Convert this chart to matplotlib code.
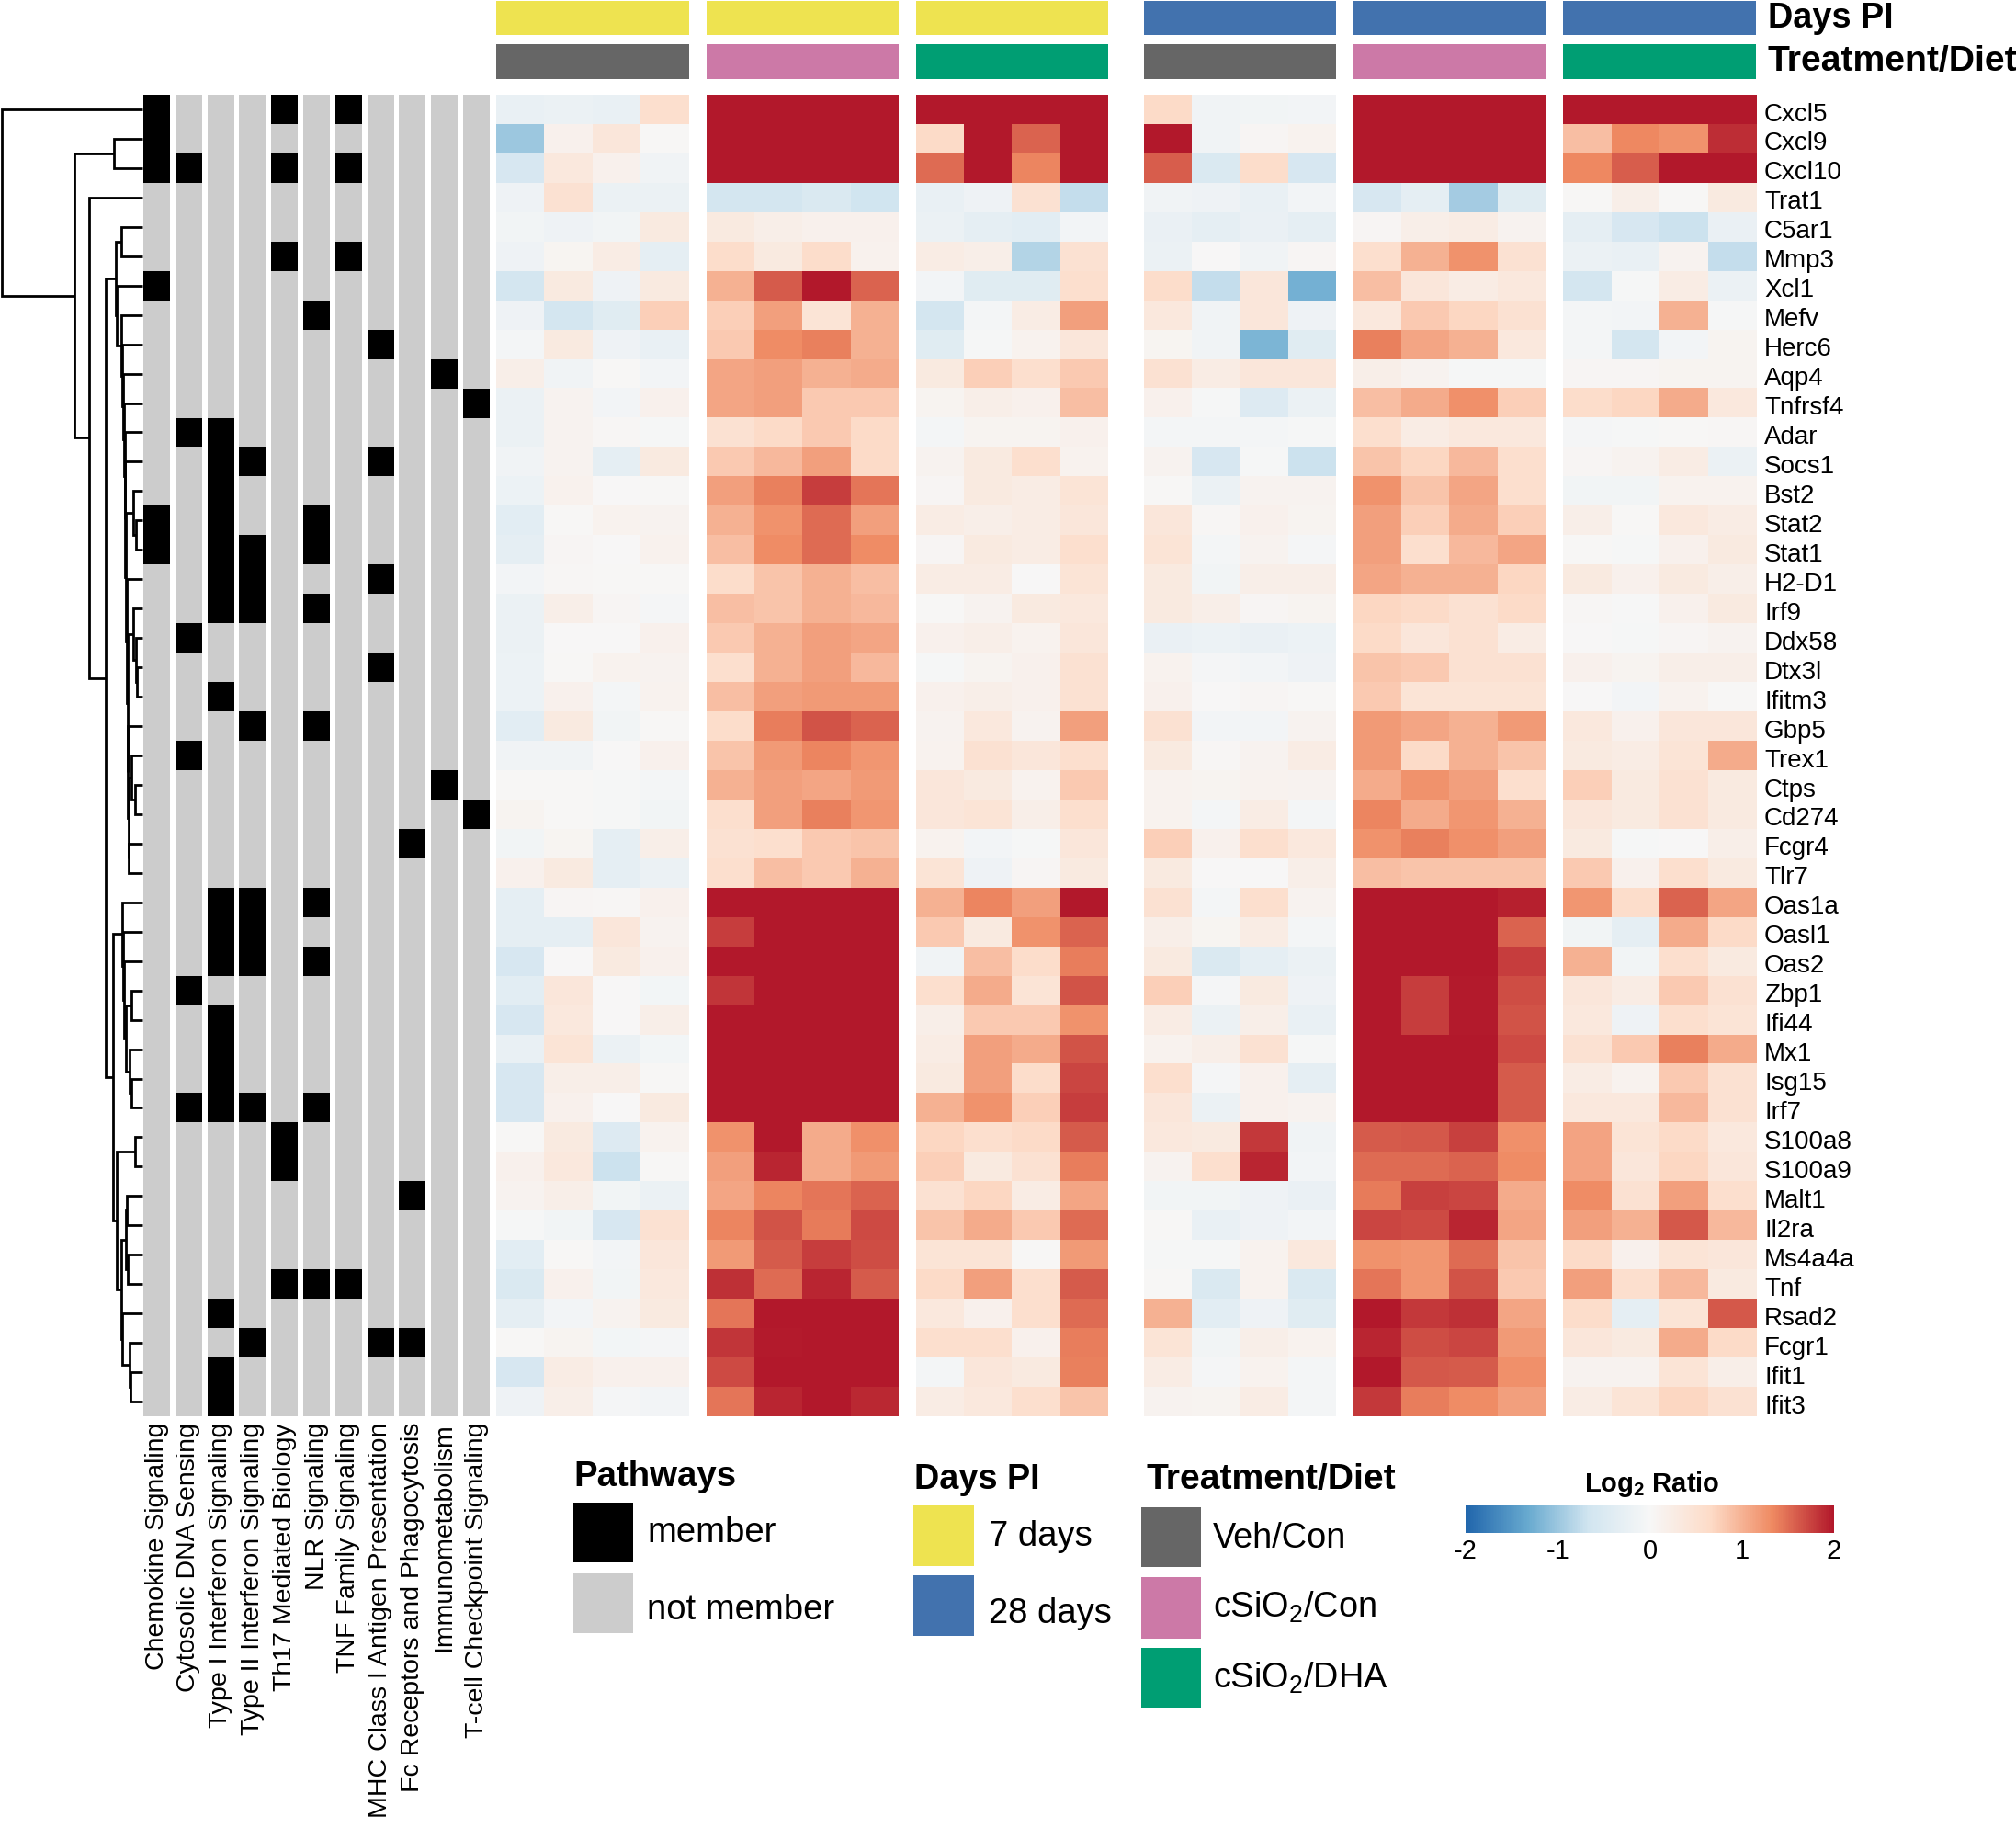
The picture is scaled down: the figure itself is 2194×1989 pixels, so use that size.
import numpy as np
import matplotlib
matplotlib.use("Agg")
import matplotlib.pyplot as plt
from matplotlib.colors import LinearSegmentedColormap, ListedColormap
from matplotlib.patches import Rectangle

plt.rcParams['font.family'] = ['Liberation Sans', 'DejaVu Sans']
plt.rcParams['mathtext.fontset'] = 'custom'
plt.rcParams['mathtext.rm'] = 'Liberation Sans'
plt.rcParams['mathtext.bf'] = 'Liberation Sans:bold'
plt.rcParams['mathtext.default'] = 'regular'

genes = ["Cxcl5", "Cxcl9", "Cxcl10", "Trat1", "C5ar1", "Mmp3", "Xcl1", "Mefv", "Herc6",
         "Aqp4", "Tnfrsf4", "Adar", "Socs1", "Bst2", "Stat2", "Stat1", "H2-D1", "Irf9",
         "Ddx58", "Dtx3l", "Ifitm3", "Gbp5", "Trex1", "Ctps", "Cd274", "Fcgr4", "Tlr7",
         "Oas1a", "Oasl1", "Oas2", "Zbp1", "Ifi44", "Mx1", "Isg15", "Irf7", "S100a8",
         "S100a9", "Malt1", "Il2ra", "Ms4a4a", "Tnf", "Rsad2", "Fcgr1", "Ifit1", "Ifit3"]

# log2 ratios, one list per treatment group
veh_7d = [
    [-.25, -.2, -.25, .55], [-1.0, .15, .4, .03], [-.55, .35, .15, -.12], [-.15, .5, -.2, -.2],
    [-.1, -.15, -.1, .3], [-.15, .07, .25, -.3], [-.6, .3, -.15, .3], [-.15, -.6, -.4, .75],
    [-.05, .3, -.15, -.25], [.2, -.12, .02, -.08], [-.2, .1, -.08, .15], [-.2, .1, .04, -.03],
    [-.12, .1, -.3, .3], [-.18, .13, .0, .03], [-.35, .03, .12, .1], [-.3, .05, .0, .13],
    [-.08, .04, .02, .02], [-.2, .2, .05, -.04], [-.2, .0, .0, .15], [-.18, .02, .12, .1],
    [-.18, .15, -.05, .12], [-.35, .3, -.1, .03], [-.12, -.12, .0, .15], [.03, .03, -.03, -.05],
    [.08, .03, -.02, -.1], [-.1, .07, -.3, .2], [.15, .3, -.3, -.2], [-.3, .05, .04, .15],
    [-.3, -.3, .4, .1], [-.55, .01, .3, .15], [-.35, .4, .0, -.07], [-.55, .35, .0, .2],
    [-.25, .45, -.2, -.07], [-.55, .2, .2, .02], [-.55, .15, .01, .3], [.03, .3, -.45, .12],
    [.15, .35, -.7, .02], [.1, .2, -.1, -.2], [-.03, -.1, -.55, .5], [-.35, .02, -.08, .4],
    [-.5, .15, -.1, .35], [-.3, -.08, .1, .3], [.02, .08, -.07, -.04], [-.55, .25, .15, .15],
    [-.15, .2, -.04, -.08]]
sio2_con_7d = [
    [2, 2, 2, 2], [2, 2, 2, 2], [2, 2, 2, 2], [-.6, -.6, -.5, -.65],
    [.3, .2, .15, .15], [.6, .3, .6, .13], [1.0, 1.6, 2, 1.55], [.75, 1.15, .45, 1.0],
    [.8, 1.3, 1.38, 1.0], [1.1, 1.15, 1.0, 1.05], [1.1, 1.15, .8, .8], [.5, .65, .8, .65],
    [.8, .95, 1.15, .65], [1.15, 1.38, 1.78, 1.45], [1.0, 1.25, 1.5, 1.15], [.9, 1.3, 1.5, 1.3],
    [.6, .85, 1.0, .9], [.9, .85, 1.0, .95], [.8, 1.0, 1.15, 1.1], [.55, 1.0, 1.15, .95],
    [.9, 1.15, 1.2, 1.2], [.6, 1.4, 1.65, 1.55], [.85, 1.2, 1.35, 1.22], [1.0, 1.15, 1.1, 1.2],
    [.55, 1.15, 1.38, 1.22], [.5, .55, .8, .85], [.55, .9, .8, 1.0], [2, 2, 2, 2],
    [1.78, 2, 2, 2], [2, 2, 2, 2], [1.82, 2, 2, 2], [2, 2, 2, 2],
    [2, 2, 2, 2], [2, 2, 2, 2], [2, 2, 2, 2], [1.25, 2, 1.05, 1.28],
    [1.15, 1.92, 1.05, 1.2], [1.1, 1.35, 1.45, 1.55], [1.35, 1.65, 1.42, 1.7], [1.2, 1.6, 1.78, 1.68],
    [1.85, 1.5, 1.92, 1.6], [1.45, 2, 2, 2], [1.82, 1.97, 2, 2], [1.7, 2, 2, 2],
    [1.45, 1.92, 2, 1.9]]
sio2_dha_7d = [
    [2, 2, 2, 2], [.65, 2, 1.55, 2], [1.5, 2, 1.35, 2], [-.25, -.15, .5, -.75],
    [-.2, -.3, -.35, -.08], [.25, .2, -.85, .5], [-.08, -.4, -.4, .55], [-.6, -.05, .25, 1.15],
    [-.4, -.03, .12, .4], [.3, .75, .55, .8], [.08, .2, .15, .9], [-.06, .08, .08, .15],
    [.1, .3, .55, .12], [.05, .3, .25, .45], [.25, .2, .25, .4], [.05, .3, .25, .55],
    [.25, .25, .0, .45], [.03, .1, .3, .35], [.15, .2, .12, .4], [-.02, .08, .15, .5],
    [.15, .2, .15, .5], [.1, .35, .1, 1.15], [.12, .5, .4, .55], [.4, .3, .12, .8],
    [.4, .45, .2, .55], [.12, -.08, -.03, .4], [.45, -.15, .05, .3], [1.0, 1.35, 1.15, 2],
    [.8, .3, 1.25, 1.55], [-.12, .9, .6, 1.4], [.55, 1.05, .45, 1.65], [.2, .8, .8, 1.25],
    [.25, 1.15, 1.05, 1.65], [.3, 1.15, .6, 1.72], [1.0, 1.25, .75, 1.78], [.7, .55, .65, 1.6],
    [.75, .3, .5, 1.4], [.5, .7, .25, 1.1], [.85, 1.05, .8, 1.5], [.45, .45, .02, 1.2],
    [.65, 1.15, .55, 1.6], [.35, .15, .55, 1.5], [.55, .55, .15, 1.4], [-.05, .4, .3, 1.38],
    [.25, .35, .55, .85]]
veh_28d = [
    [.65, -.12, -.1, -.08], [2, -.12, .05, .12], [1.58, -.5, .6, -.55], [-.12, -.15, -.25, -.08],
    [-.22, -.3, -.22, -.3], [-.2, .0, -.12, .05], [.6, -.75, .4, -1.25], [.35, -.12, .4, -.15],
    [.07, -.12, -1.2, -.4], [.5, .25, .4, .4], [.15, -.02, -.45, -.2], [-.06, -.06, -.06, -.02],
    [.1, -.55, -.02, -.7], [.02, -.2, .1, .1], [.4, .04, .15, .08], [.45, -.06, .1, -.04],
    [.3, -.1, .2, .2], [.3, .2, .05, .08], [-.22, -.18, -.22, -.18], [.12, -.04, -.08, -.15],
    [.15, .0, .05, .02], [.5, -.08, -.08, .1], [.3, .04, .1, .25], [.12, .08, .12, .1],
    [.12, -.06, .25, -.05], [.75, .15, .55, .35], [.3, .0, .0, .2], [.5, -.05, .55, .1],
    [.2, .07, .25, -.06], [.3, -.5, -.3, -.2], [.75, -.04, .3, -.15], [.25, -.2, .2, -.25],
    [.12, .2, .5, -.02], [.55, -.04, .15, -.3], [.4, -.2, .15, .1], [.35, .3, 1.8, -.12],
    [.1, .55, 1.92, -.08], [-.1, -.1, -.15, -.22], [.02, -.25, -.15, -.08], [-.03, -.03, .12, .35],
    [.02, -.5, .12, -.5], [1.0, -.35, -.15, -.4], [.45, -.1, .2, .12], [.25, -.04, .12, -.06],
    [.1, .08, .25, -.06]]
sio2_con_28d = [
    [2, 2, 2, 2], [2, 2, 2, 2], [2, 2, 2, 2], [-.55, -.3, -.95, -.4],
    [.05, .2, .25, .1], [.55, 1.0, 1.25, .5], [.9, .4, .25, .35], [.35, .8, .7, .5],
    [1.38, 1.1, 1.0, .35], [.2, .1, -.02, -.02], [.9, 1.05, 1.28, .75], [.55, .25, .35, .35],
    [.85, .7, .95, .55], [1.25, .85, 1.1, .55], [1.15, .75, 1.05, .75], [1.15, .55, .95, 1.1],
    [1.1, 1.0, 1.0, .7], [.7, .65, .5, .65], [.65, .4, .5, .25], [.85, .8, .5, .5],
    [.8, .45, .45, .45], [1.2, 1.1, 1.0, 1.2], [1.2, .65, 1.0, .85], [1.05, 1.25, 1.15, .55],
    [1.35, 1.05, 1.22, 1.0], [1.25, 1.38, 1.28, 1.15], [.9, .85, .85, .85], [2, 2, 2, 1.95],
    [2, 2, 2, 1.55], [2, 2, 2, 1.78], [2, 1.78, 1.97, 1.68], [2, 1.78, 1.97, 1.65],
    [2, 2, 2, 1.7], [2, 2, 2, 1.6], [2, 2, 2, 1.6], [1.6, 1.62, 1.75, 1.28],
    [1.5, 1.5, 1.55, 1.3], [1.42, 1.75, 1.72, 1.05], [1.72, 1.7, 1.92, 1.1], [1.25, 1.22, 1.5, .85],
    [1.45, 1.22, 1.65, .8], [2, 1.8, 1.85, 1.1], [1.92, 1.68, 1.72, 1.2], [2, 1.62, 1.6, 1.28],
    [1.8, 1.4, 1.3, 1.15]]
sio2_dha_28d = [
    [2, 2, 2, 2], [.9, 1.33, 1.25, 1.87], [1.33, 1.58, 2, 2], [.03, .2, .03, .3],
    [-.3, -.55, -.7, -.22], [-.2, -.25, .1, -.75], [-.6, -.02, .25, -.2], [-.05, -.08, 1.0, -.03],
    [-.05, -.6, -.08, .08], [.06, .06, .08, .08], [.6, .7, 1.05, .35], [-.04, -.02, .02, .04],
    [.05, .1, .25, -.2], [-.1, -.1, .12, .12], [.2, .03, .35, .25], [.02, -.03, .15, .3],
    [.3, .15, .3, .2], [.04, -.01, .15, .3], [.0, -.02, .05, .1], [.15, .08, .2, .2],
    [.0, -.08, .12, .03], [.35, .15, .4, .4], [.3, .25, .45, 1.05], [.75, .3, .5, .3],
    [.4, .3, .5, .3], [.3, -.03, .0, .2], [.8, .15, .55, .3], [1.22, .6, 1.55, 1.1],
    [-.1, -.3, 1.05, .65], [1.0, -.1, .55, .3], [.4, .25, .8, .5], [.35, -.15, .55, .45],
    [.5, .8, 1.38, 1.05], [.25, .12, .8, .5], [.35, .35, .95, .5], [1.12, .45, .65, .35],
    [1.12, .4, .7, .4], [1.3, .5, 1.15, .55], [1.15, 1.0, 1.62, .95], [.65, .15, .45, .4],
    [1.15, .55, .95, .3], [.6, -.3, .45, 1.62], [.4, .3, 1.05, .65], [.1, .1, .45, .2],
    [.25, .45, .7, .5]]
groups = [veh_7d, sio2_con_7d, sio2_dha_7d, veh_28d, sio2_con_28d, sio2_dha_28d]

pathways = ["Chemokine Signaling", "Cytosolic DNA Sensing", "Type I Interferon Signaling",
            "Type II Interferon Signaling", "Th17 Mediated Biology", "NLR Signaling",
            "TNF Family Signaling", "MHC Class I Antigen Presentation",
            "Fc Receptors and Phagocytosis", "Immunometabolism", "T-cell Checkpoint Signaling"]
# rows (index into genes) that belong to each pathway
members = [
    [0, 1, 2, 6, 14, 15],
    [2, 11, 18, 22, 30, 34],
    [11, 12, 13, 14, 15, 16, 17, 20, 27, 28, 29, 31, 32, 33, 34, 41, 43, 44],
    [12, 15, 16, 17, 21, 27, 28, 29, 34, 42],
    [0, 2, 5, 35, 36, 40],
    [7, 14, 15, 17, 21, 27, 29, 34, 40],
    [0, 2, 5, 40],
    [8, 12, 16, 19, 42],
    [25, 37, 42],
    [9, 23],
    [10, 24],
]

# dendrogram as (merge height, upper branch, lower branch)
tree = (153, "Cxcl5",
        (74, (31, "Cxcl9", "Cxcl10"),
         (58, "Trat1",
          (40,
           (29, (23, "C5ar1", "Mmp3"),
            (28, "Xcl1",
             (23.5, "Mefv",
              (22.5, "Herc6",
               (21.5, "Aqp4",
                (20, "Tnfrsf4",
                 (19.5, "Adar",
                  (19, "Socs1",
                   (18, (10, "Bst2", (7, "Stat2", "Stat1")),
                    (17, "H2-D1",
                     (16.5, (10, "Irf9", (7.5, "Ddx58", (6, "Dtx3l", "Ifitm3"))),
                      (16, "Gbp5",
                       (15.5, (12, "Trex1", (8.5, "Ctps", "Cd274")),
                        (15, "Fcgr4", "Tlr7")))))))))))))),
           (32,
            (22, "Oas1a",
             (21, "Oasl1",
              (20, "Oas2",
               (18, (12, "Zbp1", "Ifi44"),
                (14, "Mx1", (12, "Isg15", "Irf7")))))),
            (28, (8, "S100a8", "S100a9"),
             (23,
              (18, (17, "Malt1", "Il2ra"), (16, "Ms4a4a", "Tnf")),
              (22, "Rsad2", (14, "Fcgr1", (13, "Ifit1", "Ifit3"))))))))))

days_labels = ["7 days", "28 days"]
diet_labels = ["Veh/Con", "cSiO$_2$/Con", "cSiO$_2$/DHA"]
cbar_ticks = [-2, -1, 0, 1, 2]
cbar_ticklabels = ["-2", "-1", "0", "1", "2"]

YELLOW, BLUE = "#EEE350", "#4272AE"
GRAY, PINK, GREEN = "#666666", "#CC79A7", "#009E73"
days_colors = [YELLOW, BLUE]
diet_colors = [GRAY, PINK, GREEN]

W, H = 2194, 1989
fig = plt.figure(figsize=(W / 100, H / 100), dpi=100)


def px_axes(x0, y0, x1, y1):
    # axes from pixel box, y measured from the top
    ax = fig.add_axes([x0 / W, 1 - y1 / H, (x1 - x0) / W, (y1 - y0) / H])
    return ax


cmap = LinearSegmentedColormap.from_list(
    "rdbu7", ["#2166AC", "#67A9CF", "#D1E5F0", "#F7F7F7", "#FDDBC7", "#EF8A62", "#B2182B"])

HEAT_TOP, HEAT_BOT = 103, 1541
group_x = [(540, 750), (769, 978), (997, 1206), (1245, 1454), (1473, 1682), (1701, 1911)]
n_rows = len(genes)

# heatmap groups
for k, (x0, x1) in enumerate(group_x):
    ax = px_axes(x0, HEAT_TOP, x1, HEAT_BOT)
    ax.imshow(np.array(groups[k]), cmap=cmap, vmin=-2, vmax=2, aspect="auto",
              interpolation="nearest")
    ax.set_xticks([])
    ax.set_yticks([])
    for s in ax.spines.values():
        s.set_visible(False)
    if k == 5:
        ax.yaxis.tick_right()
        ax.set_yticks(np.arange(n_rows) + 0.08)
        ax.set_yticklabels(genes, fontsize=20)
        ax.tick_params(axis="y", length=0, pad=6.5)
    # annotation bars on top
    for (y0, y1), col in zip([(1, 38), (48, 86)],
                             [days_colors[k // 3], diet_colors[k % 3]]):
        bar = px_axes(x0, y0, x1, y1)
        bar.set_facecolor(col)
        bar.set_xticks([])
        bar.set_yticks([])
        for s in bar.spines.values():
            s.set_visible(False)

# pathway membership columns
member_cmap = ListedColormap(["#CCCCCC", "black"])
path_ax = px_axes(156, HEAT_TOP, 533, HEAT_BOT)
path_ax.set_xlim(0, 10 + 29 / 34.8)
path_ax.set_ylim(n_rows, 0)
for i, rows in enumerate(members):
    column = np.zeros((n_rows, 1))
    column[rows, 0] = 1
    path_ax.pcolormesh([i, i + 29 / 34.8], np.arange(n_rows + 1), column,
                       cmap=member_cmap, vmin=0, vmax=1)
path_ax.set_xticks(np.arange(len(pathways)) + 14.5 / 34.8)
path_ax.set_xticklabels(pathways, rotation=90, fontsize=20.5, ha="center", va="top")
path_ax.set_yticks([])
path_ax.tick_params(axis="x", length=0, pad=5)
for s in path_ax.spines.values():
    s.set_visible(False)

# dendrogram
den_ax = px_axes(0, HEAT_TOP, 155, HEAT_BOT)
den_ax.set_xlim(155, 0)
den_ax.set_ylim(n_rows, 0)
den_ax.axis("off")


def draw_node(node):
    # returns (height, row position) of the node
    if isinstance(node, str):
        return 0, genes.index(node) + 0.5
    h, a, b = node
    ha, ya = draw_node(a)
    hb, yb = draw_node(b)
    den_ax.plot([ha, h, h, hb], [ya, ya, yb, yb], color="black", lw=2.0,
                solid_joinstyle="miter", solid_capstyle="butt", clip_on=False)
    return h, (ya + yb) / 2


draw_node(tree)

# overlay in pixel coordinates for the legends
over = fig.add_axes([0, 0, 1, 1])
over.set_xlim(0, W)
over.set_ylim(H, 0)
over.axis("off")
over.patch.set_alpha(0)


def swatch(x0, y0, x1, y1, col):
    over.add_patch(Rectangle((x0, y0), x1 - x0, y1 - y0, facecolor=col, edgecolor="none"))


over.text(1924, 30, "Days PI", fontsize=27.3, fontweight="bold", va="baseline")
over.text(1924, 77, "Treatment/Diet", fontsize=28.2, fontweight="bold", va="baseline")

over.text(624, 1617, "Pathways", fontsize=27.6, fontweight="bold", va="baseline")
swatch(624, 1635, 689, 1700, "black")
swatch(624, 1711, 689, 1777, "#CCCCCC")
over.text(704, 1678, "member", fontsize=27.5, va="baseline")
over.text(704, 1762, "not member", fontsize=27.5, va="baseline")

over.text(995, 1620, "Days PI", fontsize=27.3, fontweight="bold", va="baseline")
swatch(994, 1638, 1060, 1704, days_colors[0])
swatch(994, 1714, 1060, 1780, days_colors[1])
over.text(1076, 1682, days_labels[0], fontsize=27.5, va="baseline")
over.text(1076, 1766, days_labels[1], fontsize=27.5, va="baseline")

over.text(1248, 1620, "Treatment/Diet", fontsize=28.2, fontweight="bold", va="baseline")
swatch(1242, 1640, 1307, 1705, diet_colors[0])
swatch(1242, 1716, 1307, 1783, diet_colors[1])
swatch(1242, 1793, 1307, 1858, diet_colors[2])
over.text(1320, 1684, diet_labels[0], fontsize=27.3, va="baseline")
over.text(1320, 1760, diet_labels[1], fontsize=27.3, va="baseline")
over.text(1320, 1837, diet_labels[2], fontsize=27.3, va="baseline")

# colour bar
cax = px_axes(1595, 1638, 1996, 1668)
sm = plt.cm.ScalarMappable(cmap=cmap, norm=plt.Normalize(-2, 2))
cb = fig.colorbar(sm, cax=cax, orientation="horizontal")
cb.set_ticks(cbar_ticks)
cb.set_ticklabels(cbar_ticklabels)
cb.ax.tick_params(length=0, labelsize=21, pad=4)
cb.outline.set_visible(False)
over.text(1798, 1623, r"Log$_{\mathbf{2}}$ Ratio", fontsize=21, fontweight="bold",
          ha="center", va="baseline")

fig.savefig("out.png", dpi=100, facecolor="white")
